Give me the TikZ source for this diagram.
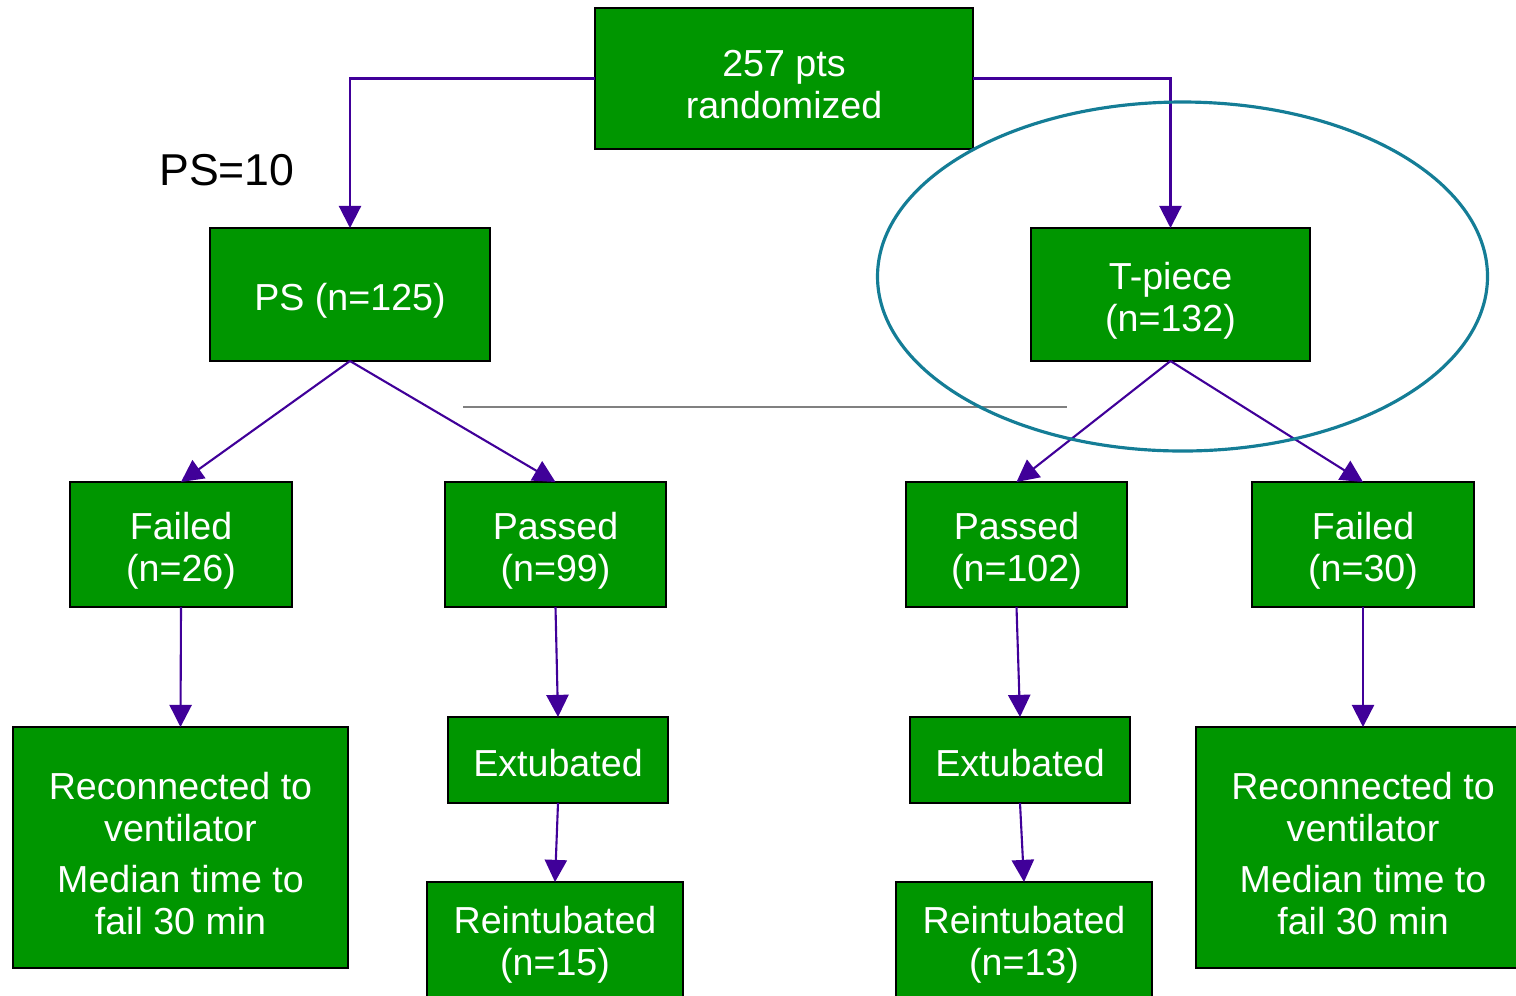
\documentclass[tikz,border=0pt]{standalone}
\usepackage{fontspec}
\setmainfont{Liberation Sans}
\usetikzlibrary{arrows.meta}
\definecolor{boxgreen}{RGB}{0,150,0}
\definecolor{arrowpurple}{RGB}{64,0,153}
\definecolor{ringteal}{RGB}{20,125,150}
\tikzset{
  box/.style={draw=black, line width=0.35pt, fill=boxgreen,
    rectangle, inner sep=0pt, outer sep=0pt},
  boxtext/.style={text=white, align=center, inner sep=0pt, yshift=-1.7pt,
    font=\fontsize{10.7}{12}\selectfont},
  conn/.style={draw=arrowpurple, line width=0.6pt,
    -{Triangle[width=6.3pt,length=6.3pt]}},
}
\begin{document}
\begin{tikzpicture}
\clip (0,0) rectangle (15.16,-9.95);
% top
\node[box, minimum width=3.78cm, minimum height=1.41cm,
  label={[boxtext]center:{257 pts\\randomized}}] (top) at (7.84,-0.785) {};
% second row
\node[box, minimum width=2.80cm, minimum height=1.33cm,
  label={[boxtext]center:{PS (n=125)}}] (ps) at (3.50,-2.945) {};
\node[box, minimum width=2.79cm, minimum height=1.33cm,
  label={[boxtext]center:{T-piece\\(n=132)}}] (tp) at (11.705,-2.945) {};
% third row
\node[box, minimum width=2.22cm, minimum height=1.25cm,
  label={[boxtext]center:{Failed\\(n=26)}}] (fl) at (1.81,-5.445) {};
\node[box, minimum width=2.21cm, minimum height=1.25cm,
  label={[boxtext]center:{Passed\\(n=99)}}] (pl) at (5.555,-5.445) {};
\node[box, minimum width=2.21cm, minimum height=1.25cm,
  label={[boxtext]center:{Passed\\(n=102)}}] (pr) at (10.165,-5.445) {};
\node[box, minimum width=2.22cm, minimum height=1.25cm,
  label={[boxtext]center:{Failed\\(n=30)}}] (fr) at (13.63,-5.445) {};
% fourth row
\node[box, minimum width=3.35cm, minimum height=2.41cm,
  label={[boxtext]center:{Reconnected to\\ventilator\\[2.3pt]Median time to\\fail 30 min}}] (rl) at (1.805,-8.475) {};
\node[box, minimum width=2.20cm, minimum height=0.86cm,
  label={[boxtext,yshift=0.8pt]center:{Extubated}}] (el) at (5.58,-7.60) {};
\node[box, minimum width=2.20cm, minimum height=0.86cm,
  label={[boxtext,yshift=0.8pt]center:{Extubated}}] (er) at (10.20,-7.60) {};
\node[box, minimum width=3.34cm, minimum height=2.41cm,
  label={[boxtext]center:{Reconnected to\\ventilator\\[2.3pt]Median time to\\fail 30 min}}] (rr) at (13.63,-8.475) {};
% bottom
\node[box, minimum width=2.56cm, minimum height=1.19cm,
  label={[boxtext,yshift=0.8pt]center:{Reintubated\\(n=15)}}] (il) at (5.55,-9.415) {};
\node[box, minimum width=2.56cm, minimum height=1.19cm,
  label={[boxtext,yshift=0.8pt]center:{Reintubated\\(n=13)}}] (ir) at (10.24,-9.415) {};
% label
\node[text=black, font=\fontsize{12.7}{15}\selectfont] (pslabel) at (2.27,-1.70) {PS=10};
% gray rule
\coordinate (g1) at (4.63,-4.07);
\coordinate (g2) at (10.67,-4.07);
\draw[gray, line width=0.4pt] (g1) -- (g2);
% connectors
\draw[conn] (top.west) -| (ps.north);
\draw[conn] (top.east) -| (tp.north);
\draw[conn] (ps.south) -- (fl.north);
\draw[conn] (ps.south) -- (pl.north);
\draw[conn] (tp.south) -- (pr.north);
\draw[conn] (tp.south) -- (fr.north);
\draw[conn] (fl.south) -- (rl.north);
\draw[conn] (pl.south) -- (el.north);
\draw[conn] (el.south) -- (il.north);
\draw[conn] (pr.south) -- (er.north);
\draw[conn] (er.south) -- (ir.north);
\draw[conn] (fr.south) -- (rr.north);
% ellipse
\draw[ringteal, line width=0.9pt] (11.825,-2.765) ellipse [x radius=3.05, y radius=1.745];
\end{tikzpicture}
\end{document}
